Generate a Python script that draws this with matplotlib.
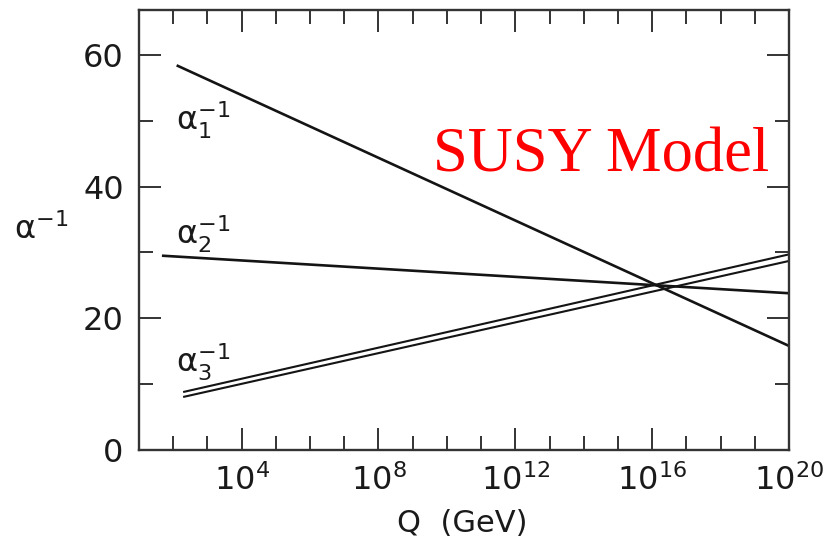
import matplotlib

matplotlib.use("Agg")
import matplotlib.pyplot as plt
from matplotlib.ticker import FixedLocator, LogFormatterSciNotation, NullFormatter

plt.rcParams["font.family"] = ["DejaVu Sans"]
plt.rcParams["mathtext.fontset"] = "dejavusans"
plt.rcParams["mathtext.default"] = "regular"

# inverse couplings, straight lines in log(Q): start and end points
q1 = [10**2.10, 1e20]
a1 = [58.4, 15.8]
q2 = [10**1.67, 1e20]
a2 = [29.5, 23.8]
q3 = [10**2.29, 1e20]
a3_hi = [8.8, 29.7]
a3_lo = [8.05, 28.7]

labels = [r"$\alpha_1^{-1}$", r"$\alpha_2^{-1}$", r"$\alpha_3^{-1}$"]
label_y = [50.1, 32.8, 13.4]

major_q = [1e4, 1e8, 1e12, 1e16, 1e20]
minor_q = [10.0**k for k in range(2, 20)]
y_major = [0, 20, 40, 60]
y_minor = [10, 30, 50]

LINE = "#141414"
FRAME = "#333333"
TXT = "#1a1a1a"

fig = plt.figure(figsize=(8.38, 5.5), dpi=100)
ax = fig.add_axes([139 / 838, 1 - 450 / 550, 650 / 838, 440 / 550])

ax.plot(q1, a1, color=LINE, lw=1.9, solid_capstyle="butt")
ax.plot(q2, a2, color=LINE, lw=1.9, solid_capstyle="butt")
ax.plot(q3, a3_hi, color=LINE, lw=1.5, solid_capstyle="butt")
ax.plot(q3, a3_lo, color=LINE, lw=1.5, solid_capstyle="butt")

for lab, y in zip(labels, label_y):
    ax.text(118, y, lab, fontsize=23, ha="left", va="center", color=TXT)

ax.text(0.452, 0.632, "SUSY Model", transform=ax.transAxes, color="#ff0000",
        fontsize=45, family=["Liberation Serif", "DejaVu Serif"],
        ha="left", va="baseline")

ax.set_xscale("log")
ax.set_xlim(10, 1e20)
ax.set_ylim(0, 66.8)

ax.xaxis.set_major_locator(FixedLocator(major_q))
ax.xaxis.set_minor_locator(FixedLocator(minor_q))
ax.xaxis.set_major_formatter(LogFormatterSciNotation())
ax.xaxis.set_minor_formatter(NullFormatter())
ax.yaxis.set_major_locator(FixedLocator(y_major))
ax.yaxis.set_minor_locator(FixedLocator(y_minor))

ax.tick_params(which="both", direction="in", top=True, right=True,
               color=FRAME, width=1.4)
ax.tick_params(which="major", length=16, labelsize=23, labelcolor=TXT)
ax.tick_params(which="minor", length=10)
ax.tick_params(axis="x", which="major", pad=10)
ax.tick_params(axis="y", which="major", pad=11)

for sp in ax.spines.values():
    sp.set_color(FRAME)
    sp.set_linewidth(1.7)

ax.set_xlabel("Q  (GeV)", fontsize=22, color=TXT, va="center")
ax.xaxis.set_label_coords(0.498, -0.168)
ax.set_ylabel(r"$\alpha^{-1}$", fontsize=23, color=TXT, rotation=0,
              ha="center", va="center")
ax.yaxis.set_label_coords(-0.15, 0.5)

fig.savefig("out.png", dpi=100)
